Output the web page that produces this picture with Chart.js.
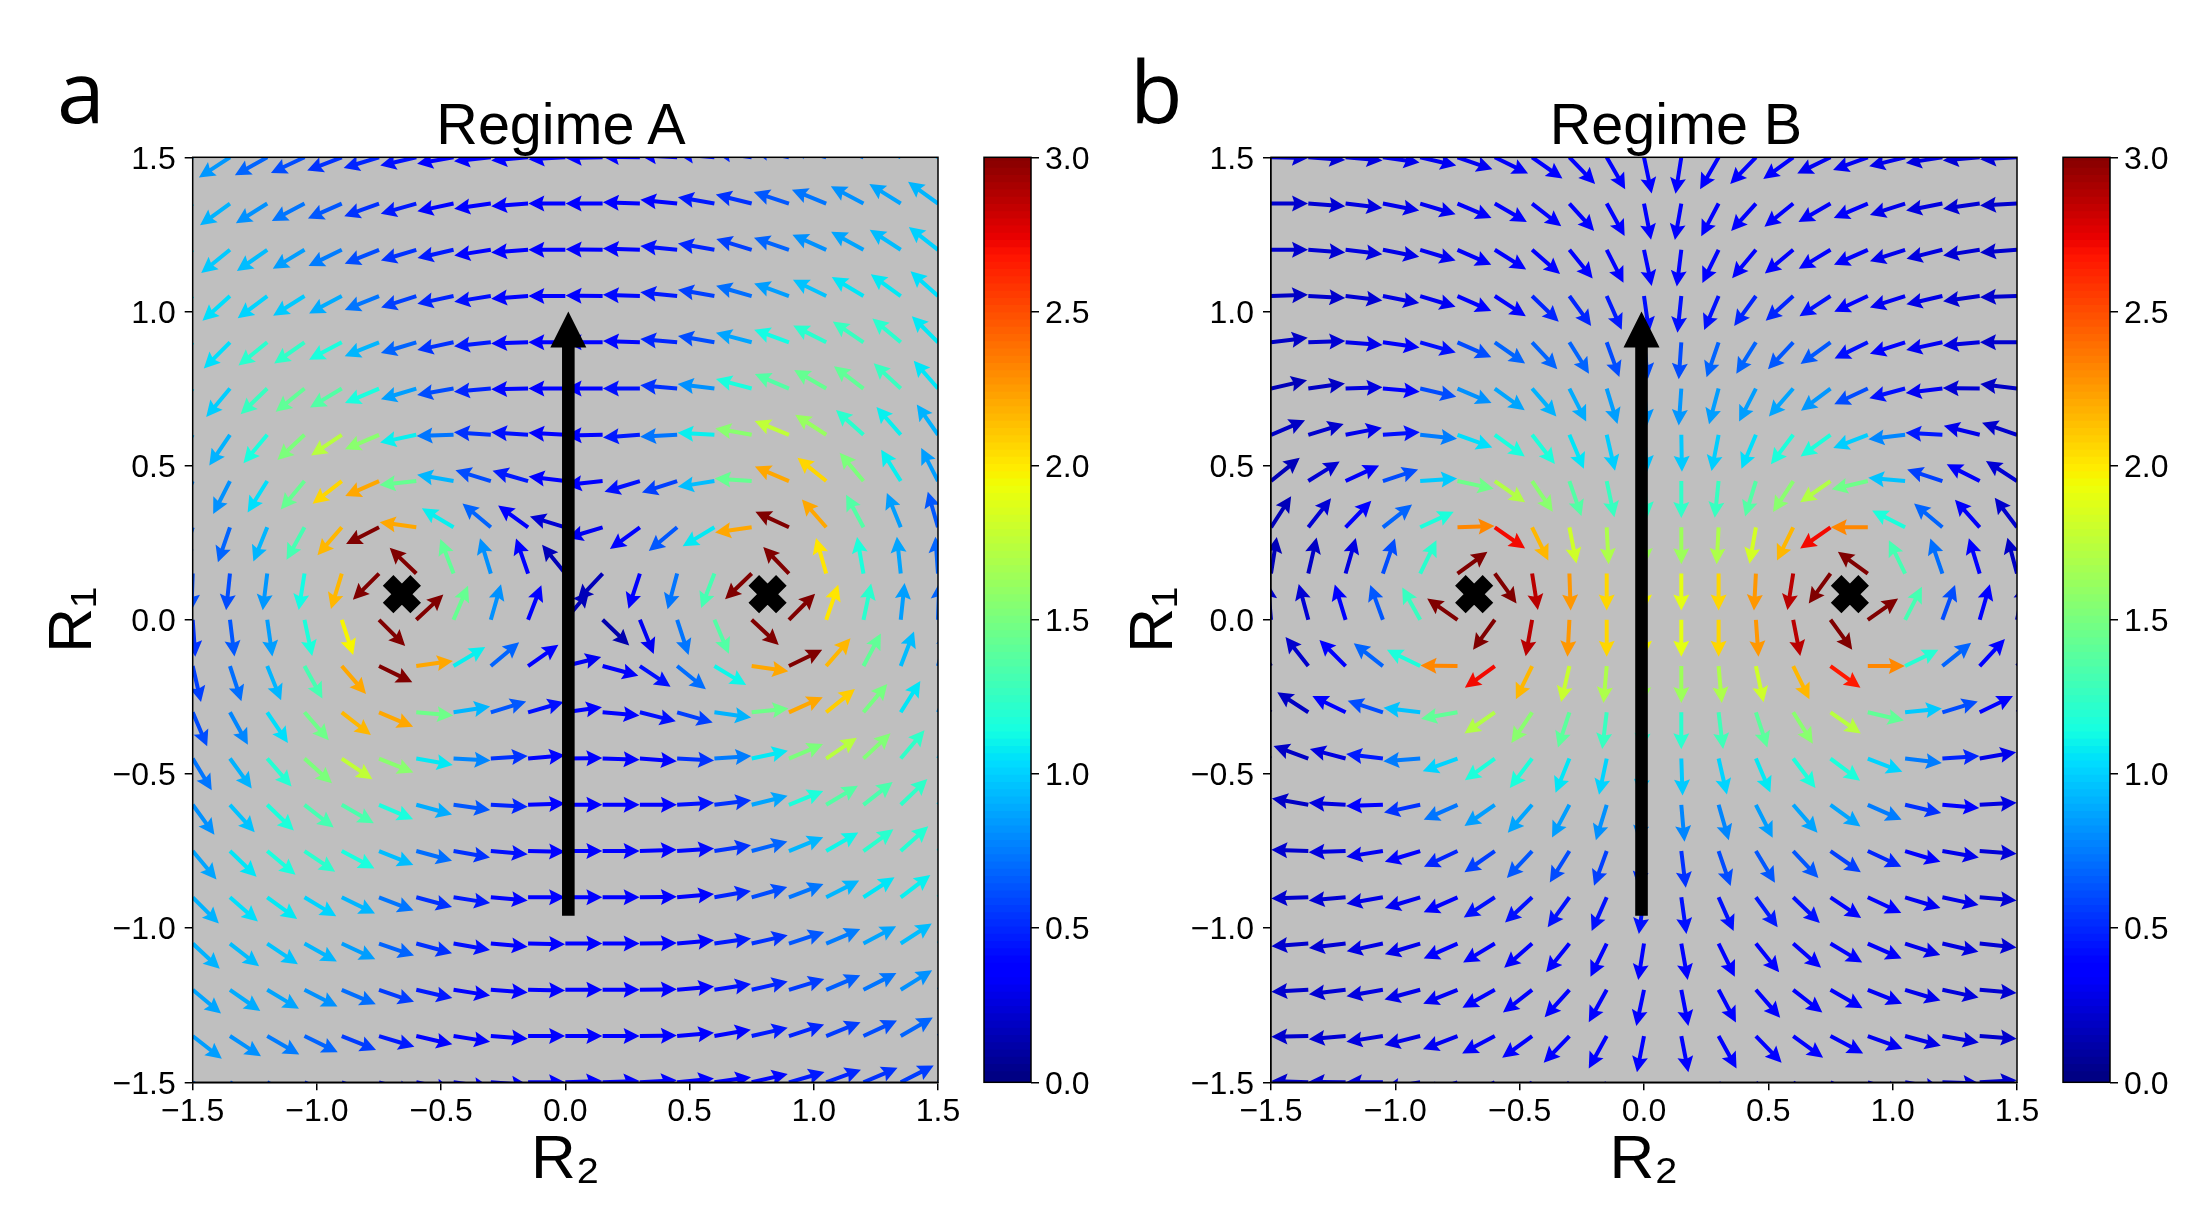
<!DOCTYPE html>
<html>
<head>
<meta charset="utf-8">
<title>Regime A and Regime B</title>
<script src="https://cdn.jsdelivr.net/npm/chart.js@4"></script>
<style>
  html, body { margin: 0; padding: 0; background: #fff; width: 2186px; height: 1206px; overflow: hidden; }
  canvas { position: absolute; top: 0; }
  .panelTitle { position: absolute; top: 96px; font: 57.5px/1 "Liberation Sans", Arial, sans-serif; color: #000; transform: translateX(-50%); white-space: nowrap; }
  .panelLetter { position: absolute; top: 47px; font: 86px/1 "Open Sans", "Noto Sans", sans-serif; color: #000; }
</style>
</head>
<body>
<div class="panelLetter" style="left:57px">a</div>
<div class="panelLetter" style="left:1130px">b</div>
<div class="panelTitle" style="left:561px">Regime A</div>
<div class="panelTitle" style="left:1676px">Regime B</div>
<canvas id="chartA" width="1000" height="1206" style="left:0"></canvas>
<canvas id="barA" width="125" height="1206" style="left:975px"></canvas>
<canvas id="chartB" width="1086" height="1206" style="left:1100px"></canvas>
<canvas id="barB" width="125" height="1206" style="left:2054px"></canvas>
<script>
// grid of arrow tails, top row first
const gridR2 = [-1.5,-1.35,-1.2,-1.05,-0.9,-0.75,-0.6,-0.45,-0.3,-0.15,0,0.15,0.3,0.45,0.6,0.75,0.9,1.05,1.2,1.35,1.5];
const gridR1 = [1.5,1.35,1.2,1.05,0.9,0.75,0.6,0.45,0.3,0.15,0,-0.15,-0.3,-0.45,-0.6,-0.75,-0.9,-1.05,-1.2,-1.35,-1.5];
const axisTicks = [-1.5,-1,-0.5,0,0.5,1,1.5];
const barTicks = [0,0.5,1,1.5,2,2.5,3];

// arrow direction in degrees
const angleA = [
[216,213,209,205,201,197,193,190,186,185,183,181,179,177,175,172,168,164,158,152,147],
[218,216,212,208,204,200,196,192,188,184,180,180,178,174,170,166,162,158,152,148,144],
[221,219,215,211,206,202,197,193,189,184,180,179,178,174,170,163,161,156,151,147,142],
[224,222,217,212,208,202,198,192,189,184,180,179,178,174,170,164,160,154,149,144,138],
[227,225,219,215,208,202,197,192,186,182,180,180,178,175,170,165,160,153,146,140,135],
[232,230,224,219,211,203,197,190,185,181,180,180,180,175,173,165,157,150,143,137,131],
[238,236,230,223,214,203,192,182,176,176,177,181,184,183,177,170,158,147,138,131,125],
[245,243,238,230,218,204,186,170,163,164,173,186,197,198,189,176,157,141,130,122,117],
[252,251,248,241,229,207,172,149,140,144,163,197,216,220,211,188,155,131,118,112,106],
[268,264,263,261,253,225,136,111,107,109,129,227,252,255,249,224,134,106,100,96,94],
[274,277,278,282,288,315,43,67,74,69,50,316,292,288,293,317,45,71,78,84,88],
[283,288,292,299,311,334,8,31,40,35,14,345,326,321,329,352,26,49,62,69,74],
[293,299,304,311,322,337,355,9,17,16,8,355,346,344,352,6,24,39,50,58,64],
[301,306,311,318,326,338,350,357,4,5,1,358,356,357,4,12,23,34,43,50,55],
[306,312,316,322,330,337,345,352,357,2,0,0,0,3,7,14,22,31,38,44,50],
[310,316,320,326,332,338,345,350,355,359,0,0,2,4,9,15,22,30,36,42,47],
[315,319,324,329,334,339,345,351,355,0,0,0,1,5,10,16,21,27,33,37,42],
[317,322,326,331,335,341,345,350,355,359,0,0,1,5,8,13,18,23,28,33,38],
[320,325,329,333,337,341,347,351,356,359,0,0,1,5,9,13,17,23,27,32,36],
[322,327,330,334,338,343,347,351,356,0,0,0,1,5,10,13,18,22,25,30,34],
[325,329,332,336,340,344,348,352,356,0,2,2,3,6,8,13,16,20,23,27,31]
];
const magA = [
[.9,.82,.67,.6,.52,.48,.42,.37,.37,.37,.37,.37,.37,.37,.42,.48,.56,.67,.74,.82,.9],
[.97,.9,.8,.72,.63,.52,.45,.38,.37,.37,.37,.37,.37,.38,.45,.52,.63,.72,.8,.86,.91],
[1.05,.97,.93,.84,.74,.6,.52,.45,.38,.37,.37,.37,.38,.42,.48,.56,.67,.8,.86,.93,.99],
[1.05,1.03,1,.97,.88,.72,.56,.48,.42,.38,.37,.37,.4,.45,.56,.7,.84,.95,1.05,1.06,1.03],
[1.03,1.03,1.2,1.22,1.14,.91,.67,.52,.45,.39,.37,.38,.39,.48,.6,.86,1.12,1.2,1.25,1.2,1.06],
[1,.98,1.25,1.4,1.35,1.14,.84,.6,.48,.39,.37,.37,.42,.52,.8,1.14,1.35,1.42,1.4,1.25,1.05],
[.9,.9,1.14,1.5,1.72,1.55,1.08,.72,.52,.42,.37,.38,.45,.72,1.08,1.55,1.75,1.6,1.2,1.08,.9],
[.77,.8,1.03,1.42,2.05,2.2,1.42,.91,.6,.45,.37,.37,.42,.56,.93,1.42,2.2,2.05,1.5,1.08,.84],
[.67,.67,.91,1.3,2.15,3,2.2,1.08,.67,.37,.22,.3,.38,.63,1.06,2.2,3,2.2,1.35,.84,.63],
[.6,.6,.82,1.12,2.15,3,3,1.4,.8,.37,.15,.15,.35,.72,1.3,3,3,2,1.15,.86,.67],
[.52,.63,.84,1.15,1.95,3,3,1.42,.8,.33,.15,.12,.3,.72,1.35,3,3,2,1.2,.84,.67],
[.56,.7,.91,1.3,2.2,3,2.2,1.08,.67,.37,.3,.32,.42,.7,1.1,2.2,3,2.15,1.4,.93,.72],
[.6,.77,1.03,1.45,2.15,2.2,1.45,.91,.63,.42,.37,.38,.42,.56,.9,1.45,2.2,2.08,1.48,1.05,.82],
[.72,.9,1.18,1.5,1.75,1.55,1.06,.77,.52,.38,.37,.37,.38,.52,.74,1.06,1.5,1.72,1.52,1.22,.97],
[.8,.95,1.15,1.3,1.32,1.14,.88,.63,.48,.38,.37,.37,.37,.42,.52,.86,1.15,1.35,1.32,1.22,1.03],
[.86,1.05,1.14,1.2,1.14,.93,.7,.52,.42,.37,.37,.37,.37,.4,.52,.67,.91,1.1,1.2,1.18,1.08],
[.9,1.03,1.06,1,.91,.72,.52,.45,.38,.37,.37,.37,.37,.38,.48,.6,.72,.91,1.05,1.08,1.08],
[.9,.93,.95,.91,.84,.67,.52,.42,.37,.37,.37,.37,.37,.38,.45,.52,.63,.74,.86,.93,.97],
[.86,.88,.86,.8,.7,.55,.45,.38,.37,.37,.37,.37,.37,.37,.42,.48,.55,.65,.72,.8,.84],
[.84,.8,.74,.67,.55,.45,.38,.37,.37,.37,.37,.37,.37,.37,.38,.45,.48,.55,.6,.67,.72],
[.72,.67,.6,.52,.45,.42,.37,.37,.37,.37,.37,.37,.37,.37,.38,.39,.45,.48,.52,.55,.6]
];
const angleB = [
[359,356,355,352,347,341,334,325,314,300,282,261,240,226,216,206,200,194,189,185,183],
[0,356,353,349,343,337,330,322,312,299,281,260,242,228,219,210,203,198,191,188,183],
[0,356,353,349,343,336,328,319,309,297,282,263,244,230,220,211,204,198,194,189,184],
[2,357,353,349,343,336,327,316,306,294,278,264,247,234,222,213,205,198,193,188,182],
[7,2,356,352,344,336,325,313,302,290,276,266,251,238,227,216,206,198,192,185,180],
[13,8,2,355,347,337,324,311,297,287,275,266,255,243,229,217,205,195,187,179,173],
[23,17,11,4,354,340,324,308,293,283,275,271,259,247,233,216,201,187,177,166,161],
[39,32,25,18,4,348,325,304,289,282,275,270,264,253,237,215,193,175,162,153,147],
[57,52,46,38,25,2,325,296,281,273,272,270,267,260,244,215,180,153,140,132,127],
[81,77,74,71,64,36,306,279,272,270,270,270,270,267,261,234,144,116,109,107,105],
[95,105,107,110,119,145,234,260,267,270,270,270,270,274,281,306,35,63,70,74,78],
[122,128,135,142,154,179,216,244,257,265,268,270,275,282,296,324,0,26,39,47,52],
[142,147,154,162,173,190,215,236,252,263,266,270,277,288,302,325,347,6,17,26,33],
[156,160,165,173,184,200,216,233,248,258,264,272,283,293,307,323,339,353,4,10,14],
[168,170,177,182,192,204,215,229,242,253,262,275,286,297,311,324,336,347,355,3,5],
[176,178,182,189,197,205,215,227,238,250,261,277,289,301,313,325,335,343,350,356,358],
[180,182,185,190,197,204,213,223,234,246,262,278,294,306,316,326,335,343,348,355,358],
[182,184,187,192,197,204,211,221,231,244,261,280,296,309,319,329,336,342,347,354,356],
[181,183,187,190,195,202,209,218,228,241,258,281,298,311,322,330,338,343,348,355,358],
[180,181,185,189,194,201,208,216,226,241,259,281,299,314,324,332,340,345,350,356,359],
[178,178,179,180,190,198,206,214,225,240,258,281,300,314,325,334,343,350,358,3,6]
];
const magB = [
[.22,.22,.25,.28,.3,.3,.32,.33,.33,.33,.33,.33,.33,.33,.33,.3,.3,.28,.25,.22,.22],
[.2,.22,.25,.28,.3,.32,.33,.33,.36,.36,.36,.36,.36,.33,.33,.32,.32,.28,.25,.22,.2],
[.2,.22,.25,.27,.3,.32,.33,.37,.37,.37,.38,.38,.38,.37,.37,.33,.32,.28,.25,.22,.2],
[.18,.2,.22,.26,.3,.33,.38,.48,.48,.45,.42,.42,.42,.48,.48,.42,.33,.3,.27,.22,.2],
[.18,.22,.28,.32,.42,.6,.67,.67,.67,.6,.6,.6,.67,.67,.63,.63,.42,.33,.3,.25,.2],
[.15,.18,.25,.33,.6,.8,.86,.9,.88,.84,.82,.82,.84,.84,.86,.82,.6,.42,.3,.22,.18],
[.18,.2,.28,.42,.74,1.03,1.14,1.15,1.05,.98,.95,.97,.98,1.03,1.15,1.15,.98,.77,.45,.28,.2],
[.15,.22,.32,.6,.97,1.45,1.7,1.55,1.35,1.25,1.22,1.22,1.25,1.35,1.55,1.7,1.45,.95,.56,.32,.22],
[.15,.22,.33,.67,1.15,2.3,2.7,2.15,1.8,1.68,1.62,1.62,1.68,1.82,2.15,2.7,2.3,1.15,.67,.32,.2],
[.15,.18,.25,.6,1.2,3,3,2.85,2.25,2.05,1.95,1.88,2.05,2.25,2.85,3,3,1.3,.7,.33,.18],
[.2,.22,.33,.63,1.25,3,3,2.85,2.25,2.05,1.95,1.88,2.05,2.25,2.85,3,3,1.3,.6,.33,.2],
[.15,.2,.33,.67,1.15,2.3,2.7,2.15,1.78,1.68,1.62,1.62,1.68,1.8,2.15,2.65,2.3,1.18,.67,.33,.2],
[.13,.18,.33,.6,.95,1.4,1.7,1.55,1.38,1.25,1.2,1.2,1.28,1.38,1.55,1.72,1.4,.97,.6,.37,.22],
[.13,.18,.25,.45,.74,1,1.15,1.15,1.05,1,.97,.97,1,1.06,1.15,1.15,1,.74,.48,.28,.2],
[.15,.18,.25,.33,.52,.72,.84,.86,.84,.8,.77,.77,.77,.84,.86,.86,.74,.52,.33,.25,.2],
[.17,.2,.25,.3,.37,.48,.56,.63,.6,.56,.52,.52,.6,.63,.63,.56,.48,.33,.28,.23,.2],
[.18,.2,.22,.27,.3,.33,.42,.42,.42,.42,.42,.42,.42,.45,.42,.38,.33,.3,.27,.22,.18],
[.18,.2,.22,.26,.28,.33,.33,.33,.33,.37,.37,.37,.37,.33,.33,.33,.32,.28,.25,.22,.18],
[.17,.2,.22,.25,.28,.31,.33,.33,.33,.33,.33,.33,.33,.33,.33,.33,.31,.28,.24,.21,.17],
[.17,.2,.22,.25,.27,.3,.32,.33,.33,.33,.33,.33,.33,.33,.33,.32,.3,.27,.24,.2,.17],
[.17,.2,.22,.25,.27,.3,.32,.33,.33,.33,.33,.33,.33,.33,.33,.32,.3,.27,.24,.2,.17]
];

// black X markers and the big arrow (tail, tip)
const markersA = [[-0.658,0.083],[0.814,0.083]];
const markersB = [[-0.683,0.083],[0.828,0.083]];
const bigArrowA = [[0.012,-0.96],[0.012,1.0]];
const bigArrowB = [[-0.01,-0.96],[-0.01,1.0]];

const FONT = '"Liberation Sans", Arial, sans-serif';
const PLOT_TOP = 157.3, PLOT_BOTTOM = 1082.3;

// matplotlib jet
function jet(v) {
    const f = Math.min(1, Math.max(0, v / 3));
    const lerp = pts => {
        for (let i = 1; i < pts.length; i++) {
            if (f <= pts[i][0]) {
                const t = (f - pts[i-1][0]) / (pts[i][0] - pts[i-1][0]);
                return Math.round(255 * (pts[i-1][1] + t * (pts[i][1] - pts[i-1][1])));
            }
        }
        return Math.round(255 * pts[pts.length-1][1]);
    };
    const r = lerp([[0,0],[.35,0],[.66,1],[.89,1],[1,.5]]);
    const g = lerp([[0,0],[.125,0],[.375,1],[.64,1],[.91,0],[1,0]]);
    const b = lerp([[0,.5],[.11,1],[.34,1],[.65,0],[1,0]]);
    return `rgb(${r},${g},${b})`;
}

function drawArrow(ctx, x, y, deg, len, shaft, headLen, headWidth, notch, color) {
    ctx.save();
    ctx.translate(x, y);
    ctx.rotate(-deg * Math.PI / 180);
    ctx.fillStyle = color;
    ctx.beginPath();
    ctx.moveTo(0, -shaft/2);
    ctx.lineTo(len - notch, -shaft/2);
    ctx.lineTo(len - headLen, -headWidth/2);
    ctx.lineTo(len, 0);
    ctx.lineTo(len - headLen, headWidth/2);
    ctx.lineTo(len - notch, shaft/2);
    ctx.lineTo(0, shaft/2);
    ctx.closePath();
    ctx.fill();
    ctx.restore();
}

const quiverPlugin = {
    id: 'quiver',
    beforeDatasetsDraw(chart) {
        const { ctx, chartArea: a } = chart;
        const ds = chart.data.datasets[0];
        ctx.save();
        ctx.fillStyle = '#bfbfbf';
        ctx.fillRect(a.left, a.top, a.right - a.left, a.bottom - a.top);
        ctx.beginPath();
        ctx.rect(a.left, a.top, a.right - a.left, a.bottom - a.top);
        ctx.clip();
        chart.getDatasetMeta(0).data.forEach((p, k) => {
            const row = Math.floor(k / gridR2.length), col = k % gridR2.length;
            drawArrow(ctx, p.x, p.y, ds.angles[row][col], 37, 4, 16, 16, 14, jet(ds.mags[row][col]));
        });
        ctx.restore();
    },
    afterDatasetsDraw(chart) {
        const { ctx, scales } = chart;
        const big = chart.data.datasets[0].bigArrow;
        const x0 = scales.x.getPixelForValue(big[0][0]), y0 = scales.y.getPixelForValue(big[0][1]);
        const y1 = scales.y.getPixelForValue(big[1][1]);
        drawArrow(ctx, x0, y0, 90, y0 - y1, 12.6, 36, 36, 36, '#000');
    }
};

const framePlugin = {
    id: 'frame',
    afterDraw(chart) {
        const { ctx, chartArea: a } = chart;
        ctx.save();
        ctx.strokeStyle = '#000';
        ctx.lineWidth = 1.5;
        ctx.strokeRect(a.left, a.top, a.right - a.left, a.bottom - a.top);
        ctx.restore();
    }
};

function axis(ticks, fixedSize, titleText, titlePad, tickPad, labelOffset) {
    return {
        type: 'linear',
        min: -1.5,
        max: 1.5,
        afterBuildTicks: s => { s.ticks = ticks.map(v => ({ value: v })); },
        afterFit: s => {
            if (s.isHorizontal()) s.height = fixedSize; else s.width = fixedSize;
        },
        border: { display: true, color: '#000', width: 1.5 },
        grid: { drawOnChartArea: false, drawTicks: true, tickLength: 8, color: '#000', lineWidth: 1.5 },
        ticks: {
            color: '#000', padding: tickPad, labelOffset, maxRotation: 0, autoSkip: false,
            font: { family: FONT, size: 32 },
            callback: v => v.toFixed(1).replace('-', '\u2212')
        },
        title: { display: true, text: titleText, color: '#000', font: { family: FONT, size: 62 }, padding: titlePad }
    };
}

function makePanel(id, angles, mags, markers, bigArrow, yAxisWidth, rightPad, yTitlePad) {
    const tails = [];
    gridR1.forEach(y => gridR2.forEach(x => tails.push({ x, y })));
    return new Chart(document.getElementById(id), {
        type: 'scatter',
        data: {
            datasets: [
                { label: 'field', data: tails, pointRadius: 0, angles, mags, bigArrow },
                {
                    label: 'markers',
                    data: markers.map(m => ({ x: m[0], y: m[1] })),
                    pointStyle: 'crossRot', pointRadius: 19.5, pointBorderWidth: 15,
                    pointBorderColor: '#000', pointBackgroundColor: '#000'
                }
            ]
        },
        options: {
            responsive: false,
            animation: false,
            devicePixelRatio: 1,
            events: [],
            layout: { padding: { top: PLOT_TOP, right: rightPad, bottom: 0, left: 0 } },
            plugins: { legend: { display: false }, tooltip: { enabled: false } },
            scales: {
                x: axis(axisTicks, 1206 - PLOT_BOTTOM, 'R\u2082', { top: 0, bottom: 8 }, 3, 0),
                y: axis(axisTicks, yAxisWidth, 'R\u2081', { top: yTitlePad, bottom: 0 }, 9, 2.5)
            }
        },
        plugins: [quiverPlugin, framePlugin]
    });
}

function makeColorbar(id) {
    const levels = [];
    for (let i = 0; i < 128; i++) levels.push(i * 3 / 128);
    const step = 3 / 128;
    return new Chart(document.getElementById(id), {
        type: 'bar',
        data: {
            labels: ['jet'],
            datasets: levels.map(lo => ({
                data: [[lo, Math.min(3, lo + step * 1.5)]],
                backgroundColor: jet(lo + step / 2),
                borderWidth: 0,
                grouped: false,
                barPercentage: 1,
                categoryPercentage: 1
            }))
        },
        options: {
            responsive: false,
            animation: false,
            devicePixelRatio: 1,
            events: [],
            layout: { padding: { top: PLOT_TOP, right: 0, bottom: 1206 - PLOT_BOTTOM, left: 9 } },
            plugins: { legend: { display: false }, tooltip: { enabled: false } },
            scales: {
                x: { display: false },
                y: {
                    type: 'linear', position: 'right', min: 0, max: 3,
                    afterBuildTicks: s => { s.ticks = barTicks.map(v => ({ value: v })); },
                    afterFit: s => { s.width = 69; },
                    border: { display: false },
                    grid: { drawOnChartArea: false, drawTicks: true, tickLength: 8, color: '#000', lineWidth: 1.5 },
                    ticks: {
                        color: '#000', padding: 6, labelOffset: 2.5, autoSkip: false,
                        font: { family: FONT, size: 32 },
                        callback: v => v.toFixed(1)
                    }
                }
            }
        },
        plugins: [framePlugin]
    });
}

makePanel('chartA', angleA, magA, markersA, bigArrowA, 192.7, 62, 37);
makePanel('chartB', angleB, magB, markersB, bigArrowB, 171, 169, 18);
makeColorbar('barA');
makeColorbar('barB');
</script>
</body>
</html>
